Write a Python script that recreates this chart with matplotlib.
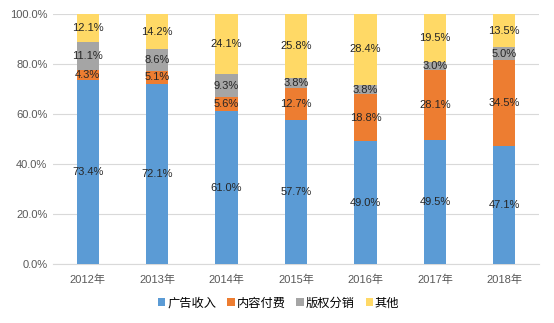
import matplotlib
matplotlib.use("Agg")
import matplotlib.pyplot as plt
import numpy as np

plt.rcParams['font.family'] = ['Liberation Sans', 'Noto Sans CJK SC', 'DejaVu Sans']

years = ["2012年", "2013年", "2014年", "2015年", "2016年", "2017年", "2018年"]
series_names = ["广告收入", "内容付费", "版权分销", "其他"]
ad_income = [73.4, 72.1, 61.0, 57.7, 49.0, 49.5, 47.1]
paid_content = [4.3, 5.1, 5.6, 12.7, 18.8, 28.1, 34.5]
copyright_dist = [11.1, 8.6, 9.3, 3.8, 3.8, 3.0, 5.0]
others = [12.1, 14.2, 24.1, 25.8, 28.4, 19.5, 13.5]
colors = ["#5B9BD5", "#ED7D31", "#A5A5A5", "#FFD966"]

fig = plt.figure(figsize=(5.54, 3.23), dpi=100)
ax = fig.add_axes([0.0957, 0.1827, 0.8773, 0.774])

x = np.arange(len(years))
bottom = np.zeros(len(years))
for name, vals, col in zip(series_names, [ad_income, paid_content, copyright_dist, others], colors):
    v = np.array(vals) / 100.0
    ax.bar(x, v, 0.32, bottom=bottom, color=col, label=name, zorder=3)
    # label sits in the middle of the visible part of each segment
    top = np.minimum(bottom + v, 1.0)
    for xi, b, t, val in zip(x, bottom, top, vals):
        ax.text(xi, (b + t) / 2, f"{val:.1f}%", ha="center", va="center",
                fontsize=8, color="#262626", zorder=4)
    bottom = bottom + v

ax.set_xlim(-0.5, len(years) - 0.5)
ax.set_ylim(0, 1.0)
ax.set_yticks(np.arange(0, 1.01, 0.2))
ax.set_yticklabels([f"{t * 100:.1f}%" for t in np.arange(0, 1.01, 0.2)])
ax.set_xticks(x)
ax.set_xticklabels(years)
ax.tick_params(axis="both", length=0, labelsize=8, labelcolor="#595959")
ax.tick_params(axis="x", pad=8)
ax.tick_params(axis="y", pad=4)
ax.yaxis.grid(True, color="#D9D9D9", linewidth=0.8, zorder=0)
for s in ["top", "right", "left"]:
    ax.spines[s].set_visible(False)
ax.spines["bottom"].set_color("#D9D9D9")

fig.legend(loc="center", bbox_to_anchor=(0.503, 0.062), ncol=4, frameon=False,
           handlelength=0.6, handleheight=0.6, handletextpad=0.15, columnspacing=0.9,
           prop={"family": "Noto Sans CJK SC", "size": 8.8})

fig.savefig("out.png", dpi=100)
